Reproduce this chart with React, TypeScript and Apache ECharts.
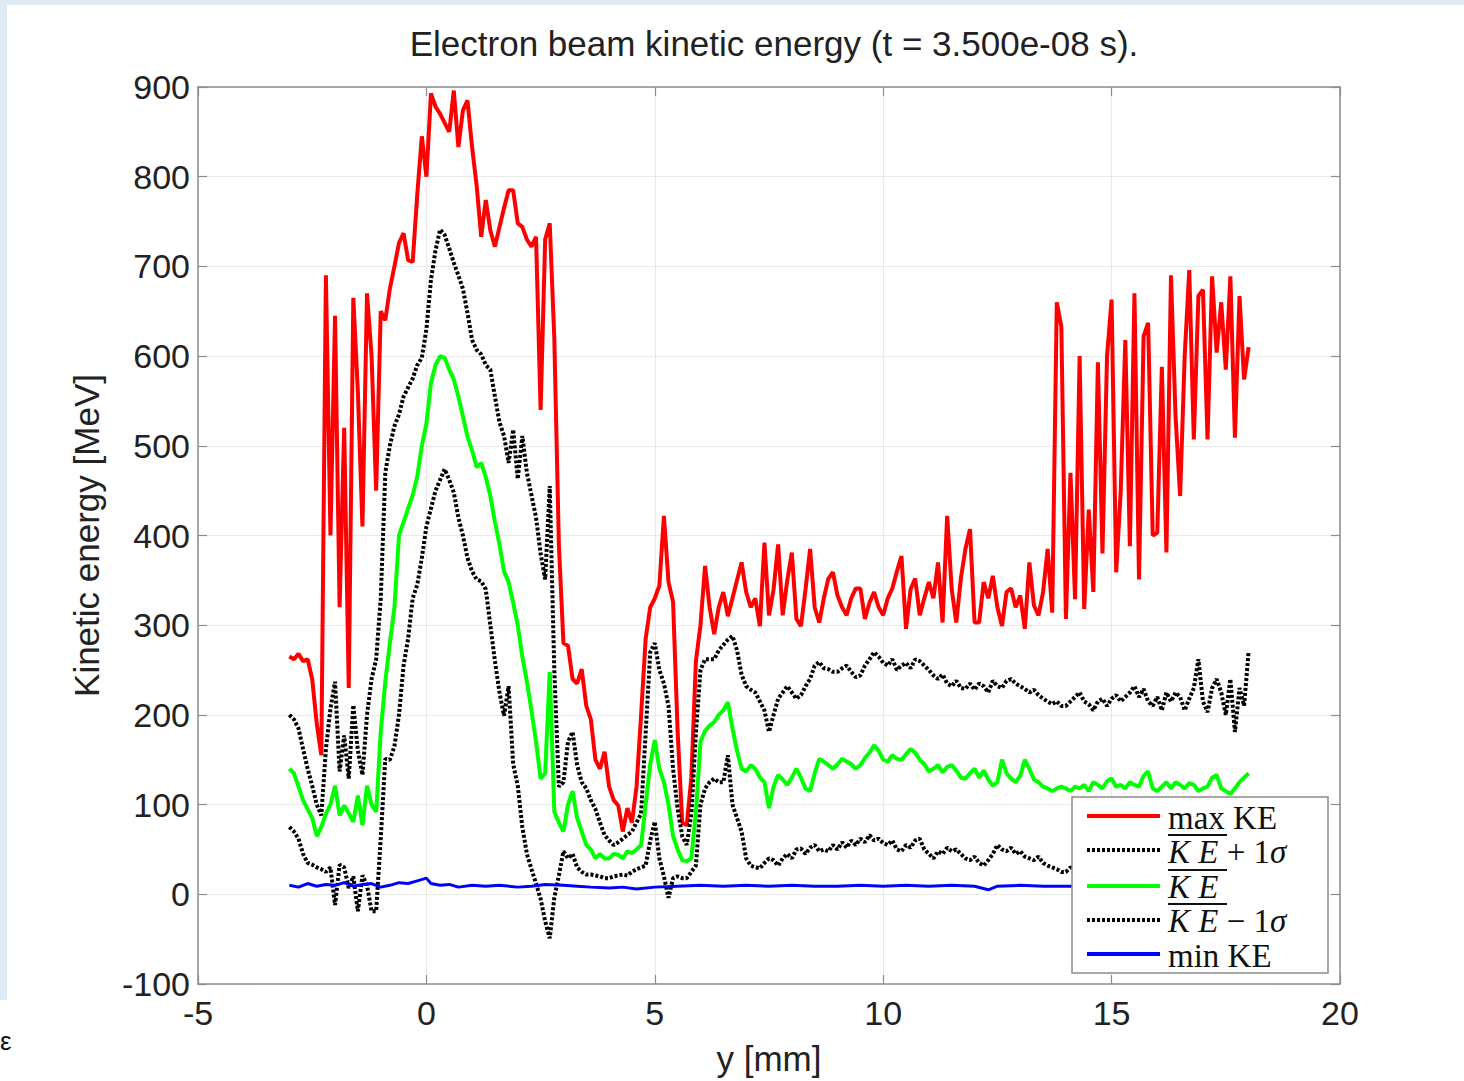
import React, { useEffect, useRef } from "react";
import * as echarts from "echarts";

const TITLE = "Electron beam kinetic energy (t = 3.500e-08 s).";
const X_NAME = "y [mm]";
const Y_NAME = "Kinetic energy [MeV]";
const X_TICKS = { min: -5, max: 20, interval: 5 };
const Y_TICKS = { min: -100, max: 900, interval: 100 };
const LEGEND_NAMES = ["max KE", "KE + 1σ", "KE", "KE − 1σ", "min KE"];

// sample positions y [mm]
const X = [
  -3, -2.9, -2.8, -2.7, -2.6, -2.5, -2.4, -2.3, -2.2, -2.1,
  -2, -1.9, -1.8, -1.7, -1.6, -1.5, -1.4, -1.3, -1.2, -1.1,
  -1, -0.9, -0.8, -0.7, -0.6, -0.5, -0.4, -0.3, -0.2, -0.1,
  0, 0.1, 0.2, 0.3, 0.4, 0.5, 0.6, 0.7, 0.8, 0.9,
  1, 1.1, 1.2, 1.3, 1.4, 1.5, 1.6, 1.7, 1.8, 1.9,
  2, 2.1, 2.2, 2.3, 2.4, 2.5, 2.6, 2.7, 2.8, 2.9,
  3, 3.1, 3.2, 3.3, 3.4, 3.5, 3.6, 3.7, 3.8, 3.9,
  4, 4.1, 4.2, 4.3, 4.4, 4.5, 4.6, 4.7, 4.8, 4.9,
  5, 5.1, 5.2, 5.3, 5.4, 5.5, 5.6, 5.7, 5.8, 5.9,
  6, 6.1, 6.2, 6.3, 6.4, 6.5, 6.6, 6.7, 6.8, 6.9,
  7, 7.1, 7.2, 7.3, 7.4, 7.5, 7.6, 7.7, 7.8, 7.9,
  8, 8.1, 8.2, 8.3, 8.4, 8.5, 8.6, 8.7, 8.8, 8.9,
  9, 9.1, 9.2, 9.3, 9.4, 9.5, 9.6, 9.7, 9.8, 9.9,
  10, 10.1, 10.2, 10.3, 10.4, 10.5, 10.6, 10.7, 10.8, 10.9,
  11, 11.1, 11.2, 11.3, 11.4, 11.5, 11.6, 11.7, 11.8, 11.9,
  12, 12.1, 12.2, 12.3, 12.4, 12.5, 12.6, 12.7, 12.8, 12.9,
  13, 13.1, 13.2, 13.3, 13.4, 13.5, 13.6, 13.7, 13.8, 13.9,
  14, 14.1, 14.2, 14.3, 14.4, 14.5, 14.6, 14.7, 14.8, 14.9,
  15, 15.1, 15.2, 15.3, 15.4, 15.5, 15.6, 15.7, 15.8, 15.9,
  16, 16.1, 16.2, 16.3, 16.4, 16.5, 16.6, 16.7, 16.8, 16.9,
  17, 17.1, 17.2, 17.3, 17.4, 17.5, 17.6, 17.7, 17.8, 17.9,
  18,
];

const MAX_KE = [
  265, 262, 268, 260, 262, 240, 190, 155, 690, 400,
  645, 320, 520, 230, 665, 560, 410, 670, 600, 450,
  650, 640, 675, 700, 726, 737, 707, 705, 780, 845,
  800, 893, 878, 870, 860, 850, 896, 833, 874, 885,
  833, 790, 733, 774, 740, 722, 744, 765, 785, 785,
  748, 744, 730, 722, 733, 540, 730, 748, 620, 390,
  280, 277, 240, 235, 251, 210, 195, 150, 140, 159,
  120, 105, 99, 70, 96, 80, 120, 200, 285, 320,
  330, 344, 422, 348, 326, 181, 80, 77, 130, 260,
  300, 366, 320, 290, 320, 337, 310, 330, 350, 370,
  337, 320, 330, 299, 392, 311, 340, 390, 311, 350,
  381, 307, 299, 340, 385, 320, 303, 330, 352, 359,
  333, 320, 311, 330, 341, 341, 307, 325, 337, 320,
  311, 330, 341, 360, 377, 296, 340, 352, 311, 330,
  348, 330, 370, 303, 422, 340, 303, 352, 385, 407,
  303, 303, 348, 330, 355, 320, 299, 337, 341, 320,
  333, 296, 370, 322, 311, 337, 385, 314, 660, 633,
  307, 470, 329, 600, 318, 429, 337, 593, 380, 600,
  663, 359, 450, 618, 388, 670, 351, 622, 637, 400,
  403, 588, 381, 690, 533, 444, 600, 696, 507, 667,
  674, 507, 689, 604, 660, 585, 689, 509, 667, 574,
  610,
];

const MEAN_PLUS = [
  200, 195, 185, 162, 140, 121, 100, 88, 162, 207,
  237, 137, 177, 129, 211, 160, 133, 200, 240, 262,
  329, 470, 500, 522, 535, 555, 565, 575, 590, 598,
  630, 685, 718, 741, 735, 720, 704, 690, 675, 648,
  618, 607, 602, 590, 585, 555, 526, 511, 481, 518,
  463, 511, 470, 445, 420, 380, 351, 455, 250, 120,
  125, 170, 181, 144, 125, 118, 105, 95, 80, 66,
  60, 55, 58, 62, 66, 70, 80, 90, 180, 270,
  280, 250, 235, 210, 140, 95, 65, 55, 90, 180,
  250, 262, 262, 262, 272, 278, 284, 288, 272, 245,
  232, 228, 225, 215, 205, 181, 200, 218, 225, 232,
  225, 218, 222, 232, 240, 255, 259, 252, 251, 248,
  248, 252, 255, 248, 242, 244, 255, 262, 270, 265,
  258, 255, 262, 250, 255, 258, 252, 262, 260, 255,
  250, 244, 240, 245, 235, 232, 238, 230, 229, 235,
  228, 235, 232, 225, 238, 232, 230, 238, 240, 235,
  232, 229, 225, 228, 222, 218, 215, 212, 215, 210,
  210, 215, 220, 225, 215, 212, 205, 215, 218, 210,
  218, 222, 215, 220, 225, 232, 220, 229, 215, 210,
  220, 205, 225, 215, 225, 220, 205, 218, 230, 262,
  215, 203, 230, 240, 225, 200, 240, 181, 230, 210,
  271,
];

const MEAN_KE = [
  140, 135, 120, 105, 95, 85, 65, 75, 90, 100,
  121, 88, 99, 90, 81, 110, 77, 121, 100, 92,
  181, 237, 280, 320, 400, 415, 430, 445, 466, 500,
  525, 570, 590, 600, 598, 585, 574, 555, 533, 510,
  495, 476, 481, 465, 444, 415, 390, 360, 348, 325,
  300, 265, 237, 205, 170, 129, 135, 248, 92, 80,
  70, 100, 115, 85, 70, 55, 50, 40, 45, 40,
  40, 45, 44, 40, 48, 46, 50, 55, 100, 145,
  172, 140, 125, 100, 65, 50, 38, 37, 40, 92,
  170, 182, 188, 192, 200, 205, 214, 185, 160, 140,
  137, 144, 140, 130, 125, 96, 120, 133, 128, 122,
  130, 140, 130, 118, 115, 135, 151, 148, 144, 140,
  145, 151, 148, 145, 140, 144, 152, 158, 166, 160,
  150, 148, 155, 151, 150, 156, 162, 158, 150, 145,
  137, 140, 144, 136, 142, 144, 138, 130, 129, 135,
  140, 130, 138, 128, 121, 125, 150, 135, 129, 125,
  132, 150, 140, 128, 125, 120, 118, 115, 118, 120,
  118, 115, 120, 118, 122, 115, 125, 122, 118, 126,
  129, 120, 122, 118, 125, 122, 120, 132, 137, 118,
  115, 120, 125, 118, 125, 122, 118, 124, 122, 115,
  118, 120, 130, 133, 118, 115, 112, 118, 125, 130,
  135,
];

const MEAN_MINUS = [
  75, 70, 62, 45, 35, 33, 30, 28, 25, 30,
  -12, 33, 30, 7, 20, -19, 21, 10, -19, -19,
  62, 151, 150, 165, 200, 255, 285, 330, 345, 375,
  410, 430, 450, 462, 474, 462, 448, 420, 400, 375,
  360, 351, 349, 340, 300, 260, 225, 199, 232, 145,
  121, 75, 45, 28, 12, -5, -30, -49, -4, 21,
  48, 40, 45, 30, 25, 22, 22, 21, 20, 18,
  18, 20, 21, 22, 21, 25, 28, 30, 32, 60,
  81, 40, 20, -4, 18, 20, 18, 18, 25, 32,
  100, 118, 125, 129, 125, 125, 155, 100, 85, 70,
  40, 32, 30, 29, 35, 40, 38, 32, 40, 45,
  40, 50, 51, 45, 52, 55, 48, 50, 48, 55,
  50, 58, 52, 60, 55, 62, 58, 66, 60, 62,
  57, 55, 60, 50, 48, 55, 52, 60, 62, 50,
  45, 40, 48, 45, 52, 48, 50, 45, 40, 38,
  42, 35, 32, 38, 45, 55, 50, 48, 52, 45,
  48, 42, 40, 38, 42, 35, 32, 30, 28, 25,
  25, 30, 28, 32, 25, 30, 35, 28, 30, 32,
  28, 35, 30, 32, 28, 35, 30, 32, 28, 30,
  32, 28, 35, 30, 32, 28, 34, 30, 32, 28,
  30, 32, 28, 35, 30, 32, 28, 30, 32, 30,
  30,
];

const MIN_X = [
  -3, -2.8, -2.6, -2.4, -2.2, -2, -1.8, -1.6, -1.4, -1.2,
  -1, -0.8, -0.6, -0.4, -0.2, 0, 0.1, 0.3, 0.5, 0.7,
  1, 1.3, 1.6, 2, 2.3, 2.6, 3, 3.3, 3.6, 4,
  4.3, 4.6, 5, 5.5, 6, 6.5, 7, 7.5, 8, 8.5,
  9, 9.5, 10, 10.5, 11, 11.5, 12, 12.3, 12.5, 13,
  13.5, 14, 14.5, 15, 15.5, 16, 16.5, 17, 17.5, 18,
];
const MIN_KE = [
  10, 8, 12, 9, 11, 10, 13, 9, 11, 12,
  8, 10, 13, 12, 15, 18, 12, 10, 11, 8,
  10, 9, 10, 8, 9, 11, 10, 9, 8, 7,
  8, 6, 8, 9, 10, 9, 10, 9, 10, 9,
  9, 10, 9, 10, 9, 10, 9, 5, 9, 10,
  9, 9, 9, 9, 9, 9, 9, 9, 9, 9,
];

const FONT = "'Liberation Sans', Arial, Helvetica, sans-serif";
const SERIF = "'Liberation Serif', 'Times New Roman', serif";
const AXIS_GRAY = "#8c8c8c";
const TEXT = "#222222";

export default function App() {
  const ref = useRef<HTMLDivElement>(null);
  useEffect(() => {
    const chart = echarts.init(ref.current!, null, { renderer: "svg" });
    const pairs = (xs: number[], ys: number[]) => xs.map((x, i) => [x, ys[i]]);
    const baseAxis = {
      type: "value",
      axisLine: { show: true, onZero: false, lineStyle: { color: AXIS_GRAY, width: 1.5 } },
      axisTick: { show: true, inside: true, length: 9, lineStyle: { color: AXIS_GRAY, width: 1.2 } },
    };
    const legendX = 1072, legendY = 797, legendW = 256, legendH = 176;
    const linesY = [816, 850, 886, 920, 954];
    const textY = [818, 852, 887, 921, 956];
    const legendColors = ["#ff0000", "#000000", "#00ff00", "#000000", "#0000ff"];
    const legendDash = [null, [3, 2], null, [3, 2], null];
    const KE = "K\u2005E";
    const legendTexts = [
      "max KE",
      `{i|${KE}} + 1{i|σ}`,
      `{i|${KE}}`,
      `{i|${KE}} − 1{i|σ}`,
      "min KE",
    ];
    const graphic: any[] = [
      { type: "rect", z: 1, shape: { x: 0, y: 0, width: 1464, height: 5 }, style: { fill: "#dde9f3" } },
      { type: "rect", z: 1, shape: { x: 0, y: 0, width: 7, height: 1000 }, style: { fill: "#dde9f3" } },
      { type: "text", x: 0, y: 1028, z: 1, style: { text: "ε", fontSize: 26, fontFamily: FONT, fill: "#111" } },
      {
        type: "rect", z: 100,
        shape: { x: legendX, y: legendY, width: legendW, height: legendH },
        style: { fill: "#ffffff", stroke: AXIS_GRAY, lineWidth: 1.5 },
      },
    ];
    linesY.forEach((y, i) => {
      graphic.push({
        type: "line", z: 101,
        shape: { x1: 1087, y1: y, x2: 1160, y2: y },
        style: { stroke: legendColors[i], lineWidth: 4, lineDash: legendDash[i] },
      });
      graphic.push({
        type: "text", z: 101, x: 1168, y: textY[i],
        style: {
          text: legendTexts[i],
          fontSize: 33, fontFamily: SERIF, fill: "#111", lineHeight: 29,
          verticalAlign: "middle", align: "left",
          rich: { i: { fontStyle: "italic", fontSize: 33, fontFamily: SERIF, fill: "#111", lineHeight: 29 } },
        },
      });
    });
    [835, 870, 904].forEach((y) => {
      graphic.push({
        type: "line", z: 101,
        shape: { x1: 1168, y1: y, x2: 1227, y2: y },
        style: { stroke: "#111", lineWidth: 1.8 },
      });
    });

    chart.setOption({
      animation: false,
      backgroundColor: "#ffffff",
      title: {
        text: TITLE,
        left: 769,
        top: 21,
        textAlign: "center",
        textStyle: { fontSize: 35, fontWeight: "normal", color: TEXT, fontFamily: FONT },
      },
      grid: { left: 198, top: 87, width: 1142, height: 899, containLabel: false },
      xAxis: [
        {
          ...baseAxis,
          position: "bottom",
          ...X_TICKS,
          name: X_NAME,
          nameLocation: "middle",
          nameGap: 57,
          nameTextStyle: { fontSize: 35, color: TEXT, fontFamily: FONT },
          axisLabel: { color: TEXT, fontSize: 34, fontFamily: FONT, margin: 12 },
          splitLine: { show: true, lineStyle: { color: "#e9e9e9", width: 1 } },
        },
        {
          ...baseAxis,
          position: "top",
          ...X_TICKS,
          axisLabel: { show: false },
          splitLine: { show: false },
        },
      ],
      yAxis: [
        {
          ...baseAxis,
          position: "left",
          ...Y_TICKS,
          name: Y_NAME,
          nameLocation: "middle",
          nameGap: 94,
          nameRotate: 90,
          nameTextStyle: { fontSize: 35, color: TEXT, fontFamily: FONT },
          axisLabel: { color: TEXT, fontSize: 34, fontFamily: FONT, margin: 8 },
          splitLine: { show: true, lineStyle: { color: "#e9e9e9", width: 1 } },
        },
        {
          ...baseAxis,
          position: "right",
          ...Y_TICKS,
          axisLabel: { show: false },
          splitLine: { show: false },
        },
      ],
      graphic,
      series: [
        {
          name: LEGEND_NAMES[0], type: "line", data: pairs(X, MAX_KE), showSymbol: false,
          lineStyle: { color: "#ff0000", width: 4 }, z: 2,
        },
        {
          name: LEGEND_NAMES[1], type: "line", data: pairs(X, MEAN_PLUS), showSymbol: false,
          lineStyle: { color: "#000000", width: 4, type: [3, 2] }, z: 3,
        },
        {
          name: LEGEND_NAMES[2], type: "line", data: pairs(X, MEAN_KE), showSymbol: false,
          lineStyle: { color: "#00ff00", width: 4 }, z: 4,
        },
        {
          name: LEGEND_NAMES[3], type: "line", data: pairs(X, MEAN_MINUS), showSymbol: false,
          lineStyle: { color: "#000000", width: 4, type: [3, 2] }, z: 5,
        },
        {
          name: LEGEND_NAMES[4], type: "line", data: pairs(MIN_X, MIN_KE), showSymbol: false,
          lineStyle: { color: "#0000ff", width: 3 }, z: 6,
        },
      ],
    });
    return () => chart.dispose();
  }, []);
  return (
    <div
      ref={ref}
      style={{ position: "fixed", left: 0, top: 0, width: 1464, height: 1081, background: "#fff" }}
    />
  );
}
